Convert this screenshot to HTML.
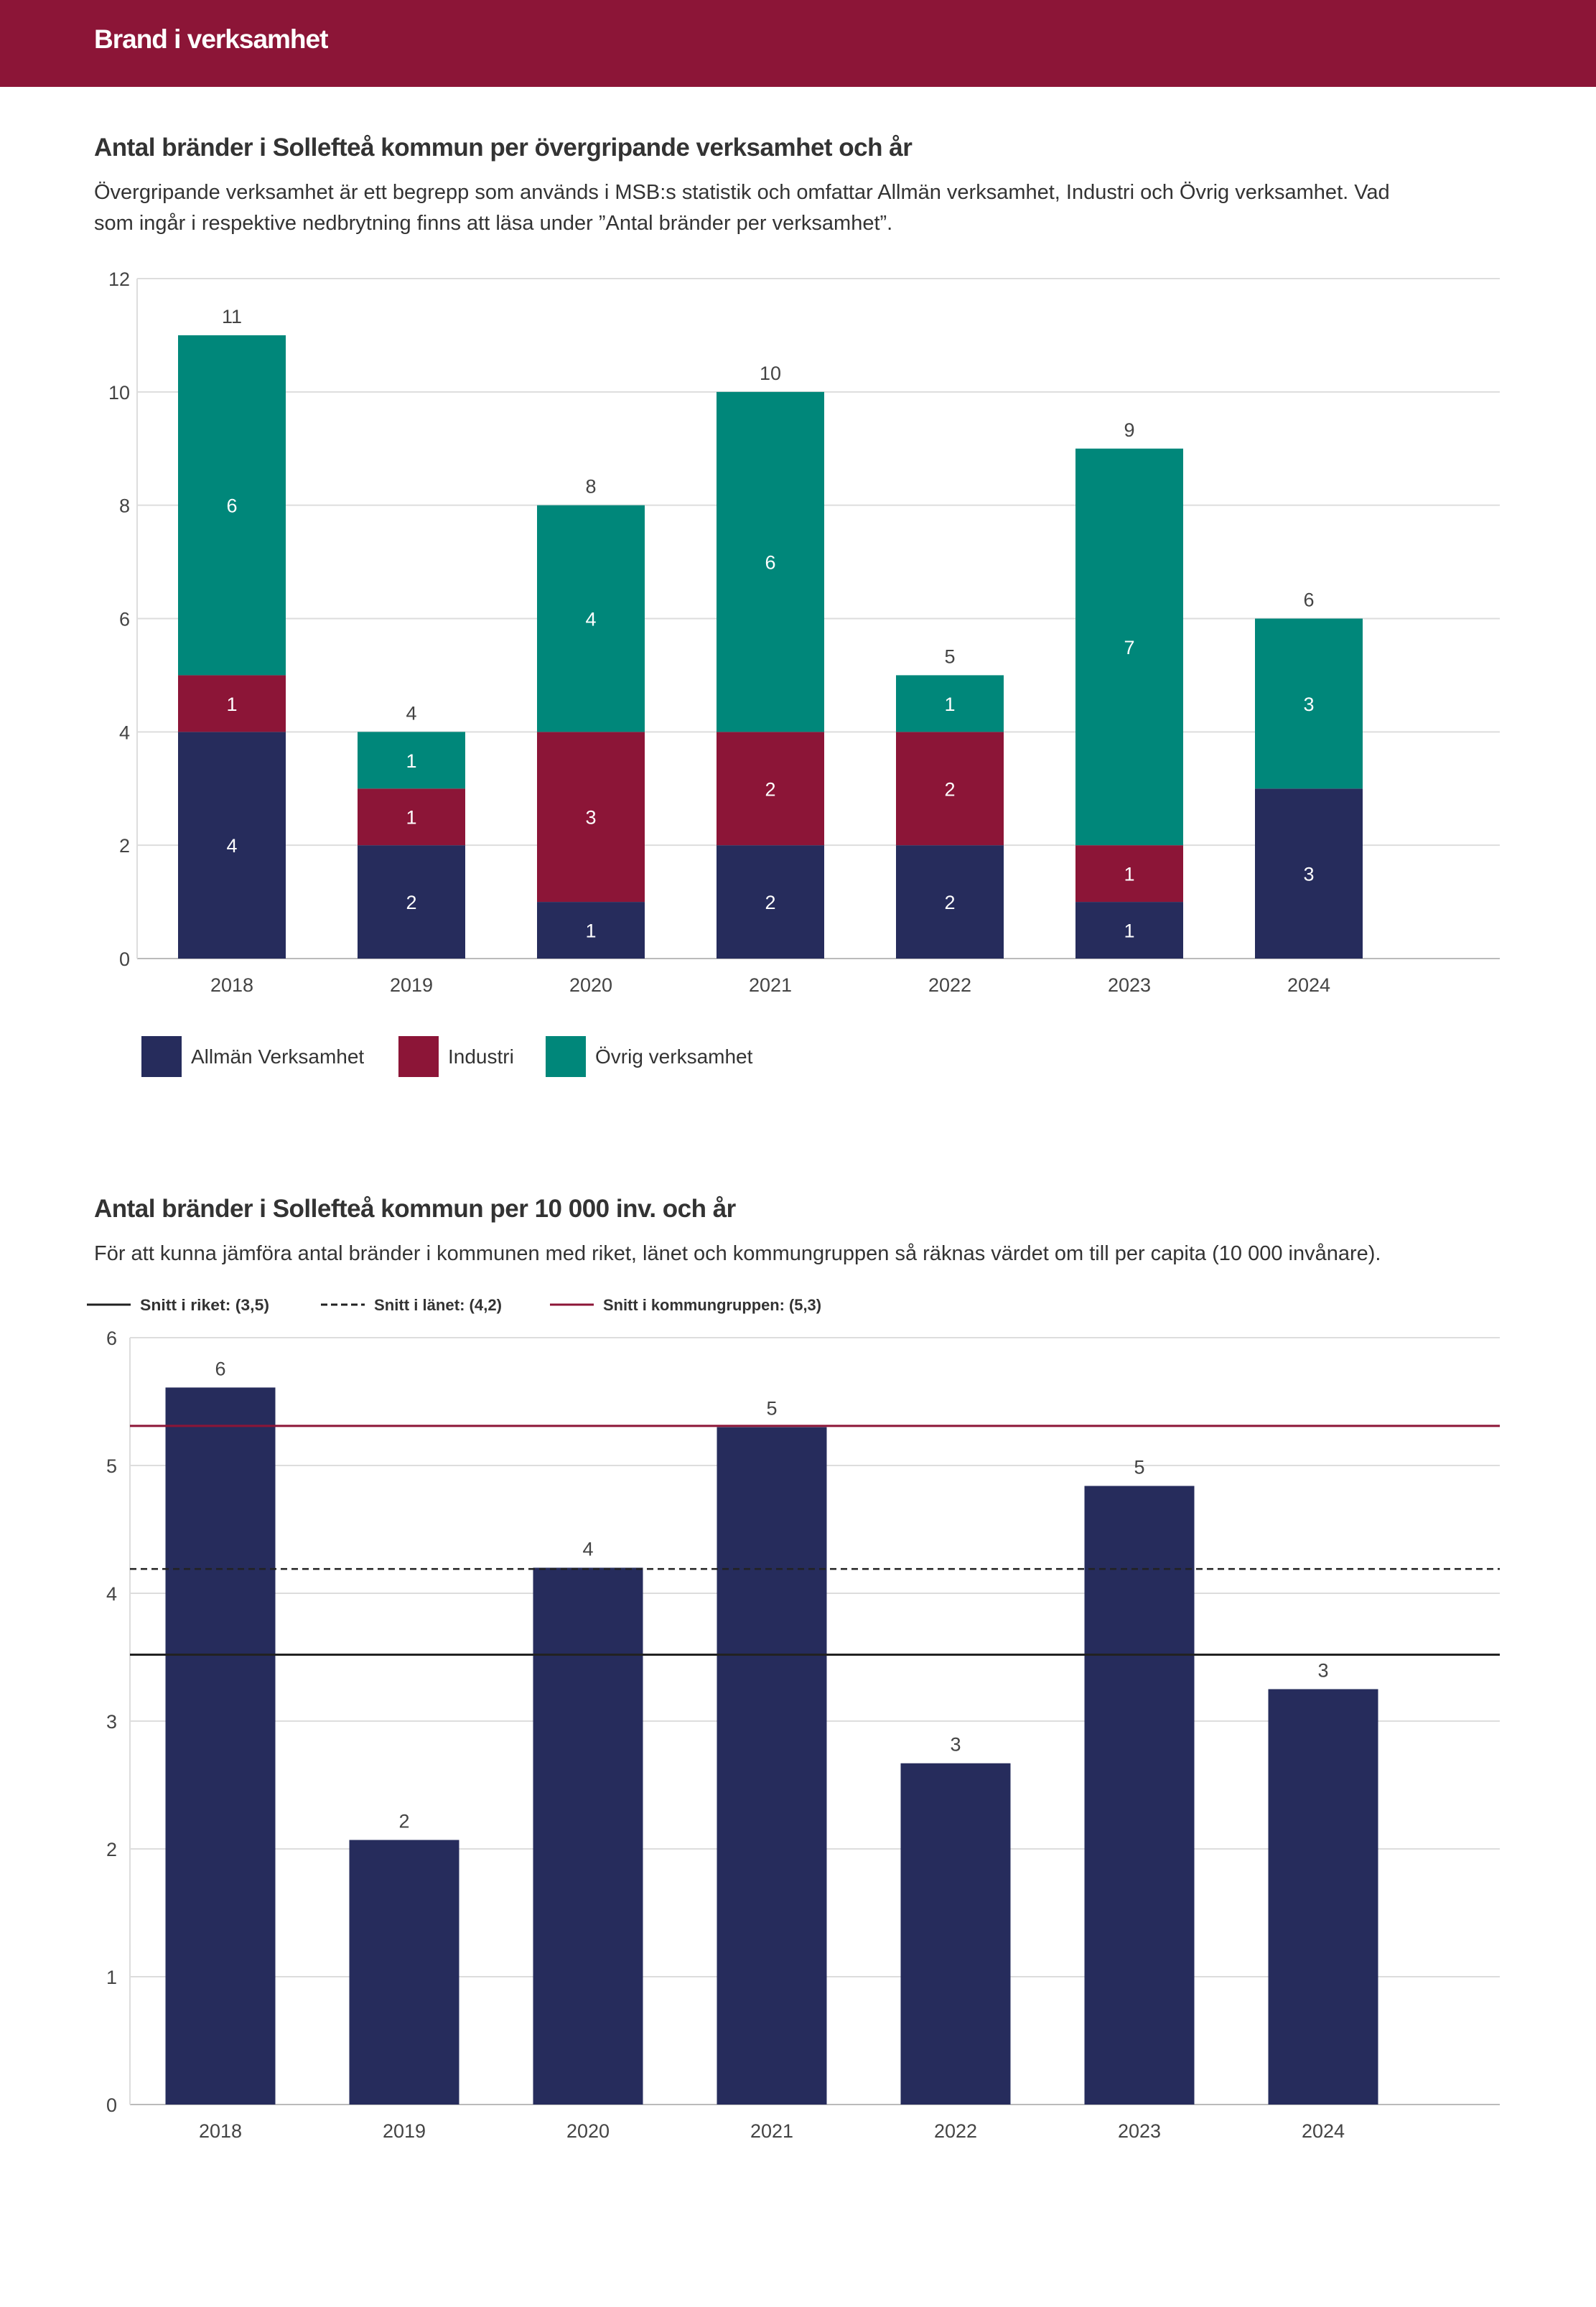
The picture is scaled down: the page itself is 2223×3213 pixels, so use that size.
<!DOCTYPE html>
<html><head><meta charset="utf-8">
<style>
html,body{margin:0;padding:0;background:#fff;}
body{width:2223px;height:3213px;position:relative;overflow:hidden;font-family:"Liberation Sans",sans-serif;color:#333;}
.hdr{position:absolute;left:0;top:0;width:2223px;height:121px;background:#8c1537;}
.hdr span{position:absolute;left:131px;top:34px;font-size:37px;font-weight:bold;color:#fff;letter-spacing:-1px;}
.t{position:absolute;left:131px;font-size:35px;font-weight:bold;color:#333;letter-spacing:-0.5px;white-space:nowrap;}
.s{position:absolute;left:131px;font-size:29px;color:#333;line-height:43px;white-space:nowrap;}
svg{position:absolute;left:0;top:0;}
</style></head>
<body>
<div class="hdr"><span>Brand i verksamhet</span></div>
<div class="t" style="top:186px">Antal bränder i Sollefteå kommun per övergripande verksamhet och år</div>
<div class="s" style="top:247px">Övergripande verksamhet är ett begrepp som används i MSB:s statistik och omfattar Allmän verksamhet, Industri och Övrig verksamhet. Vad<br>som ingår i respektive nedbrytning finns att läsa under ”Antal bränder per verksamhet”.</div>
<div class="t" style="top:1664px">Antal bränder i Sollefteå kommun per 10 000 inv. och år</div>
<div class="s" style="top:1725px">För att kunna jämföra antal bränder i kommunen med riket, länet och kommungruppen så räknas värdet om till per capita (10 000 invånare).</div>
<svg id="c" width="2223" height="3213"></svg>
<script>
const years = ["2018","2019","2020","2021","2022","2023","2024"];
const allman = [4,2,1,2,2,1,3];
const industri = [1,1,3,2,2,1,0];
const ovrig = [6,1,4,6,1,7,3];
const ticks1 = [0,2,4,6,8,10,12];
const perCapita = [5.61,2.07,4.20,5.30,2.67,4.84,3.25];
const ticks2 = [0,1,2,3,4,5,6];
const avgRiket = 3.52, avgLanet = 4.19, avgKommun = 5.31;

const NS="http://www.w3.org/2000/svg";
const svg=document.getElementById('c');
function mk(tag,attrs,parent){const e=document.createElementNS(NS,tag);for(const k in attrs)e.setAttribute(k,attrs[k]);(parent||svg).appendChild(e);return e;}
function txt(x,y,s,size,fill,anchor,weight){const t=mk('text',{x:x,y:y,'font-size':size,fill:fill,'text-anchor':anchor||'middle','font-family':'Liberation Sans, sans-serif','font-weight':weight||'normal'});t.textContent=s;return t;}

// Chart 1
const L1=191,R1=2089,T1=388,B1=1335,max1=12;
const y1=v=>B1-(v/max1)*(B1-T1);
const x1=i=>323+i*250;
const bw1=150;
ticks1.forEach(v=>{
  const g=mk('line',{x1:L1,x2:R1,y1:y1(v),y2:y1(v),stroke:v===0?'#bbb':'#ddd','stroke-width':2});
  
  
  const t=txt(181,y1(v)+10,String(v),27,'#444','end');
  
  
});
mk('line',{x1:L1,x2:L1,y1:T1,y2:B1,stroke:'#ddd','stroke-width':2});
const series=[[allman,'#262c5c','allman'],[industri,'#8c1537','industri'],[ovrig,'#00877a','ovrig']];
years.forEach((yr,i)=>{
  let base=0;
  series.forEach(([arr,col,nm])=>{
    const v=arr[i]; if(!v) return;
    const r=mk('rect',{x:x1(i)-bw1/2,y:y1(base+v),width:bw1,height:y1(base)-y1(base+v),fill:col});
    
    
    const t=txt(x1(i),(y1(base)+y1(base+v))/2+10,String(v),27,'#fff');
    
    
    base+=v;
  });
  const tl=txt(x1(i),y1(base)-17,String(base),27,'#444');
  
  
  const xl=txt(x1(i),1381,yr,27,'#444');
  
  
});
[[197,'#262c5c','Allmän Verksamhet','legend-allman'],[555,'#8c1537','Industri','legend-industri'],[760,'#00877a','Övrig verksamhet','legend-ovrig']].forEach(([x,c,s,n])=>{
  const r=mk('rect',{x:x,y:1443,width:56,height:57,fill:c});
  
  
  const t=txt(x+69,1481,s,28,'#333','start');
  
  
});

// Chart 2
const L2=181,R2=2089,T2=1863,B2=2931,max2=6;
const y2=v=>B2-(v/max2)*(B2-T2);
const x2=i=>307+i*256;
const bw2=153;
ticks2.forEach(v=>{
  const g=mk('line',{x1:L2,x2:R2,y1:y2(v),y2:y2(v),stroke:v===0?'#bbb':'#ddd','stroke-width':2});
  
  
  const t=txt(163,y2(v)+10,String(v),27,'#444','end');
  
  
});
mk('line',{x1:L2,x2:L2,y1:T2,y2:B2,stroke:'#ddd','stroke-width':2});
years.forEach((yr,i)=>{
  const v=perCapita[i];
  const r=mk('rect',{x:x2(i)-bw2/2,y:y2(v),width:bw2,height:B2-y2(v),fill:'#262c5c'});
  
  
  const t=txt(x2(i),y2(v)-17,String(Math.round(v)),27,'#444');
  
  
  const xl=txt(x2(i),2977,yr,27,'#444');
  
  
});
const lr=mk('line',{x1:L2,x2:R2,y1:y2(avgRiket),y2:y2(avgRiket),stroke:'#222','stroke-width':3});


const ll=mk('line',{x1:L2,x2:R2,y1:y2(avgLanet),y2:y2(avgLanet),stroke:'#222','stroke-width':2.5,'stroke-dasharray':'9,6'});


const lk=mk('line',{x1:L2,x2:R2,y1:y2(avgKommun),y2:y2(avgKommun),stroke:'#8c1537','stroke-width':3});


[[121,'#222',null,'Snitt i riket: (3,5)','legend-riket',180],[447,'#222','9,5','Snitt i länet: (4,2)','legend-lanet',178],[766,'#8c1537',null,'Snitt i kommungruppen: (5,3)','legend-kommungrupp',304]].forEach(([x,c,d,s,n,w])=>{
  const a={x1:x,x2:x+61,y1:1817,y2:1817,stroke:c,'stroke-width':3};
  if(d)a['stroke-dasharray']=d;
  const l=mk('line',a);
  
  
  const t=txt(x+74,1825,s,22,'#333','start','bold');
  t.setAttribute('textLength',w);
  t.setAttribute('lengthAdjust','spacingAndGlyphs');
  
  
});
</script>
</body></html>
